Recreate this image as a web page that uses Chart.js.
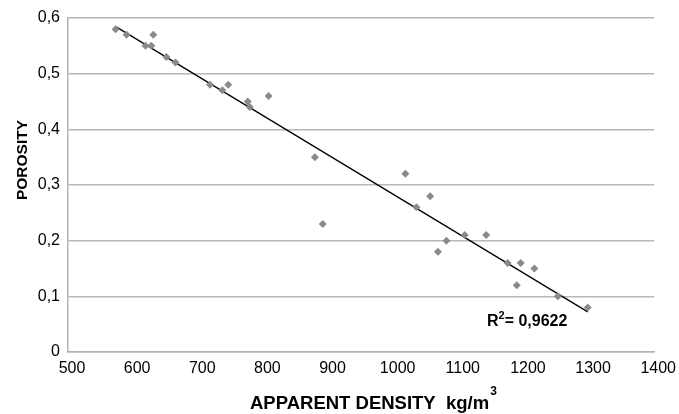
<!DOCTYPE html>
<html>
<head>
<meta charset="utf-8">
<script src="https://cdn.jsdelivr.net/npm/chart.js@4.4.1/dist/chart.umd.min.js"></script>
<style>
  html, body { margin: 0; padding: 0; background: #ffffff; }
  #wrap { width: 679px; height: 414px; }
</style>
</head>
<body>
<div id="wrap"><canvas id="c" width="679" height="414"></canvas></div>
<script>
const density  = [573, 590, 631, 619, 628, 651, 665, 718, 737, 746, 776, 779, 808, 879, 891,
                  1018, 1035, 1056, 1081, 1068, 1109, 1142, 1175, 1195, 1216, 1189, 1252, 1298];
const porosity = [0.58, 0.57, 0.57, 0.55, 0.55, 0.53, 0.52, 0.48, 0.47, 0.48, 0.45, 0.44, 0.46, 0.35, 0.23,
                  0.32, 0.26, 0.28, 0.20, 0.18, 0.21, 0.21, 0.16, 0.16, 0.15, 0.12, 0.10, 0.08];
// Linear trend line end points
const trendX = [574, 1298];
const trendY = [0.584, 0.072];
// Axis ticks
const xTicks = [500, 600, 700, 800, 900, 1000, 1100, 1200, 1300, 1400];
const yTicks = [0, 0.1, 0.2, 0.3, 0.4, 0.5, 0.6];
// Texts
const xTitle = 'APPARENT DENSITY  kg/m';
const xTitleSup = '3';
const yTitle = 'POROSITY';
const r2Base = 'R';
const r2Sup = '2';
const r2Value = '= 0,9622';

const points = density.map((d, i) => ({ x: d, y: porosity[i] }));
const trend = trendX.map((d, i) => ({ x: d, y: trendY[i] }));

const FONT = "'Liberation Sans', Arial, sans-serif";

const textPlugin = {
  id: 'texts',
  afterDraw(chart) {
    const ctx = chart.ctx;
    ctx.save();
    ctx.fillStyle = '#000';
    ctx.textBaseline = 'alphabetic';
    ctx.textAlign = 'left';
    // x title with superscript
    ctx.font = 'bold 18.5px ' + FONT;
    const xl = 250;
    ctx.fillText(xTitle, xl, 409);
    const w1 = ctx.measureText(xTitle).width;
    ctx.font = 'bold 12px ' + FONT;
    ctx.fillText(xTitleSup, xl + w1 + 1, 395);
    // y title
    ctx.font = 'bold 15.5px ' + FONT;
    ctx.save();
    ctx.translate(27, 160);
    ctx.rotate(-Math.PI / 2);
    ctx.textAlign = 'center';
    ctx.fillText(yTitle, 0, 0);
    ctx.restore();
    // R² label
    ctx.font = 'bold 16px ' + FONT;
    const rx = 487, ry = 326;
    ctx.fillText(r2Base, rx, ry);
    const wr = ctx.measureText(r2Base).width;
    ctx.font = 'bold 11px ' + FONT;
    ctx.fillText(r2Sup, rx + wr, ry - 7);
    const ws = ctx.measureText(r2Sup).width;
    ctx.font = 'bold 16px ' + FONT;
    ctx.fillText(r2Value, rx + wr + ws, ry);
    ctx.restore();
  }
};

new Chart(document.getElementById('c'), {
  type: 'scatter',
  data: {
    datasets: [
      {
        label: 'Porosity',
        data: points,
        pointStyle: 'rectRot',
        pointRadius: 4,
        pointBackgroundColor: '#8a8a8a',
        pointBorderColor: '#8a8a8a',
        pointBorderWidth: 0,
        showLine: false
      },
      {
        label: 'Trend',
        data: trend,
        showLine: true,
        borderColor: '#000',
        borderWidth: 1.3,
        pointRadius: 0,
        fill: false
      }
    ]
  },
  options: {
    responsive: false,
    animation: false,
    devicePixelRatio: 1,
    layout: { padding: { top: 18, right: 20, left: 0, bottom: 0 } },
    plugins: { legend: { display: false }, tooltip: { enabled: false } },
    scales: {
      x: {
        type: 'linear',
        min: 500, max: 1400,
        afterBuildTicks(s) { s.ticks = xTicks.map(v => ({ value: v })); },
        afterFit(s) { s.height = 62; },
        grid: { display: false, drawTicks: false },
        border: { display: true, color: '#b3b3b3', width: 1.5 },
        ticks: {
          padding: 7,
          labelOffset: 4,
          color: '#000',
          font: { family: FONT, size: 16 },
          maxRotation: 0,
          callback: v => String(v)
        }
      },
      y: {
        type: 'linear',
        min: 0, max: 0.6,
        afterBuildTicks(s) { s.ticks = yTicks.map(v => ({ value: v })); },
        afterFit(s) { s.width = 68; },
        grid: { color: '#b8b8b8', lineWidth: 1.5, drawTicks: false },
        border: { display: true, color: '#b3b3b3', width: 1.5 },
        ticks: {
          padding: 8,
          color: '#000',
          font: { family: FONT, size: 16 },
          callback: v => v === 0 ? '0' : v.toFixed(1).replace('.', ',')
        }
      }
    }
  },
  plugins: [textPlugin]
});
</script>
</body>
</html>
